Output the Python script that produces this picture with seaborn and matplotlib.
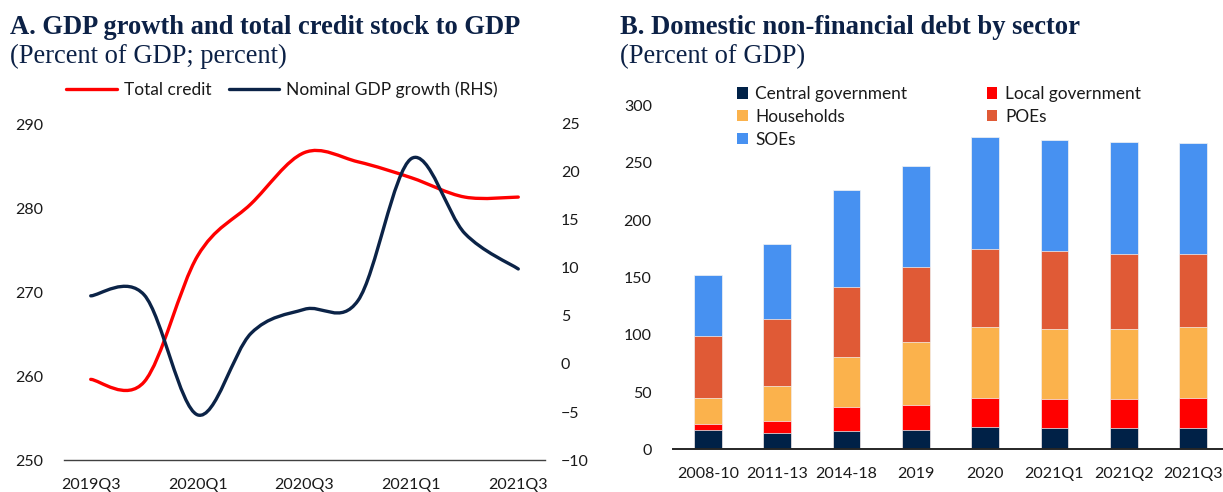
import numpy as np
import pandas as pd
import matplotlib
matplotlib.use("Agg")
import matplotlib.pyplot as plt
from matplotlib.path import Path
from matplotlib.patches import PathPatch, Patch
from matplotlib.lines import Line2D
import seaborn as sns

# ---- Panel A data: quarterly series ----
quarters = ["2019Q3", "2019Q4", "2020Q1", "2020Q2", "2020Q3",
            "2020Q4", "2021Q1", "2021Q2", "2021Q3"]
total_credit = [259.6, 259.3, 274.3, 280.5, 286.6, 285.5, 283.6, 281.3, 281.3]
gdp_growth = [7.1, 7.2, -5.3, 3.2, 5.7, 6.6, 21.4, 13.6, 9.9]

# ---- Panel B data: debt by sector, percent of GDP ----
periods = ["2008-10", "2011-13", "2014-18", "2019", "2020",
           "2021Q1", "2021Q2", "2021Q3"]
central_gov = [16.9, 14.5, 15.7, 16.6, 19.8, 18.9, 18.9, 18.9]
local_gov = [4.9, 10.5, 21.0, 21.8, 25.0, 24.7, 25.3, 25.9]
households = [22.7, 30.6, 43.9, 55.6, 62.0, 61.7, 61.1, 62.0]
poes = [54.7, 58.2, 61.4, 64.9, 68.4, 67.8, 65.5, 64.0]
soes = [52.7, 65.4, 84.4, 88.7, 97.1, 97.2, 97.5, 96.6]

RED = "#ff0000"
NAVY = "#0b2347"
TITLE_C = "#0c2146"
TEXT_C = "#1a1a1a"
sector_colors = {
    "Central government": "#002147",
    "Local government": "#ff0000",
    "Households": "#fbb24c",
    "POEs": "#e05a36",
    "SOEs": "#4791f1",
}

sns.set_theme(style="white")
plt.rcParams["font.family"] = ["Lato", "DejaVu Sans"]

W, H = 1223, 492
fig = plt.figure(figsize=(W / 100, H / 100), dpi=100)


def px_box(x0, y_top, x1, y_bot):
    """Axes rectangle from pixel edges (origin at top-left)."""
    return [x0 / W, 1 - y_bot / H, (x1 - x0) / W, (y_bot - y_top) / H]


def smooth_path(x, y):
    """Cubic Bezier path through the points (Catmull-Rom style smoothing)."""
    pts = np.column_stack([np.asarray(x, float), np.asarray(y, float)])
    ext = np.vstack([pts[0], pts, pts[-1]])
    verts = [pts[0]]
    codes = [Path.MOVETO]
    for i in range(len(pts) - 1):
        p0, p1, p2, p3 = ext[i], ext[i + 1], ext[i + 2], ext[i + 3]
        verts += [p1 + (p2 - p0) / 6, p2 - (p3 - p1) / 6, p2]
        codes += [Path.CURVE4] * 3
    return Path(verts, codes)


# ================= Panel A =================
axA = fig.add_axes(px_box(64, 124, 545, 460))
axA2 = axA.twinx()
xq = np.arange(len(quarters))

axA.add_patch(PathPatch(smooth_path(xq, total_credit), fill=False,
                        edgecolor=RED, lw=2.4, capstyle="round", joinstyle="round"))
axA2.add_patch(PathPatch(smooth_path(xq, gdp_growth), fill=False,
                         edgecolor=NAVY, lw=2.4, capstyle="round", joinstyle="round"))

axA.set_xlim(-0.5, len(quarters) - 0.5)
axA.set_ylim(250, 290)
axA2.set_ylim(-10, 25)
axA.set_yticks(np.arange(250, 291, 10))
axA2.set_yticks(np.arange(-10, 26, 5))
axA.set_xticks(xq[::2])
axA.set_xticklabels(quarters[::2])

for a in (axA, axA2):
    for s in a.spines.values():
        s.set_visible(False)
axA.spines["bottom"].set_visible(True)
axA.spines["bottom"].set_color("#404040")
axA.spines["bottom"].set_linewidth(1.0)
axA.tick_params(axis="y", length=0, pad=15, labelsize=11.5, labelcolor=TEXT_C)
axA.tick_params(axis="x", length=0, pad=13, labelsize=11.5, labelcolor=TEXT_C)
axA2.tick_params(axis="y", length=0, pad=11.5, labelsize=11.5, labelcolor=TEXT_C)
for lab in axA2.get_yticklabels():
    lab.set_horizontalalignment("left")
axA.grid(False)
axA2.grid(False)

legA = [Line2D([0], [0], color=RED, lw=2.4), Line2D([0], [0], color=NAVY, lw=2.4)]
fig.legend(legA, ["Total credit", "Nominal GDP growth (RHS)"], loc="center",
           bbox_to_anchor=(282 / W, 1 - 90 / H), ncol=2, frameon=False,
           fontsize=12.5, handlelength=2.9, handletextpad=0.4,
           columnspacing=1.0, borderpad=0, borderaxespad=0, labelcolor=TEXT_C)

fig.text(10 / W, 1 - 34 / H, "A. GDP growth and total credit stock to GDP",
         family="Liberation Serif", weight="bold", size=19.1, color=TITLE_C, va="baseline")
fig.text(10 / W, 1 - 63 / H, "(Percent of GDP; percent)",
         family="Liberation Serif", size=19.1, color=TITLE_C, va="baseline")

# ================= Panel B =================
axB = fig.add_axes(px_box(673.3, 105.7, 1227.7, 449.3))
sectors = pd.DataFrame({
    "Central government": central_gov,
    "Local government": local_gov,
    "Households": households,
    "POEs": poes,
    "SOEs": soes,
}, index=periods)
stacked = sectors.cumsum(axis=1)

# Draw cumulative totals from the top layer down so each segment shows
for name in reversed(list(sectors.columns)):
    sns.barplot(x=periods, y=stacked[name].to_numpy(), color=sector_colors[name],
                saturation=1, width=0.4, edgecolor="#f4f4f4", linewidth=0.5, ax=axB)

axB.set_xlim(-0.5, len(periods) - 0.5)
axB.set_ylim(0, 300)
axB.set_yticks(np.arange(0, 301, 50))
for s in axB.spines.values():
    s.set_visible(False)
axB.spines["bottom"].set_visible(True)
axB.spines["bottom"].set_color("#262626")
axB.spines["bottom"].set_linewidth(1.4)
axB.tick_params(axis="y", length=0, pad=15.5, labelsize=11.5, labelcolor=TEXT_C)
axB.tick_params(axis="x", length=0, pad=12.5, labelsize=11.5, labelcolor=TEXT_C)
axB.set_xlabel("")
axB.set_ylabel("")
axB.grid(False)

order = ["Central government", "Households", "SOEs", "Local government", "POEs"]
legB = [Patch(facecolor=sector_colors[n], edgecolor="none") for n in order]
fig.legend(legB, order, loc="upper left", bbox_to_anchor=(737 / W, 1 - 86 / H),
           ncol=2, frameon=False, fontsize=12.4, handlelength=0.62, handleheight=0.62,
           handletextpad=0.45, labelspacing=0.4, columnspacing=4.6, borderpad=0,
           borderaxespad=0, labelcolor=TEXT_C)

fig.text(620 / W, 1 - 34 / H, "B. Domestic non-financial debt by sector",
         family="Liberation Serif", weight="bold", size=19.2, color=TITLE_C, va="baseline")
fig.text(620 / W, 1 - 63 / H, "(Percent of GDP)",
         family="Liberation Serif", size=19.1, color=TITLE_C, va="baseline")

fig.savefig("out.png", dpi=100)
